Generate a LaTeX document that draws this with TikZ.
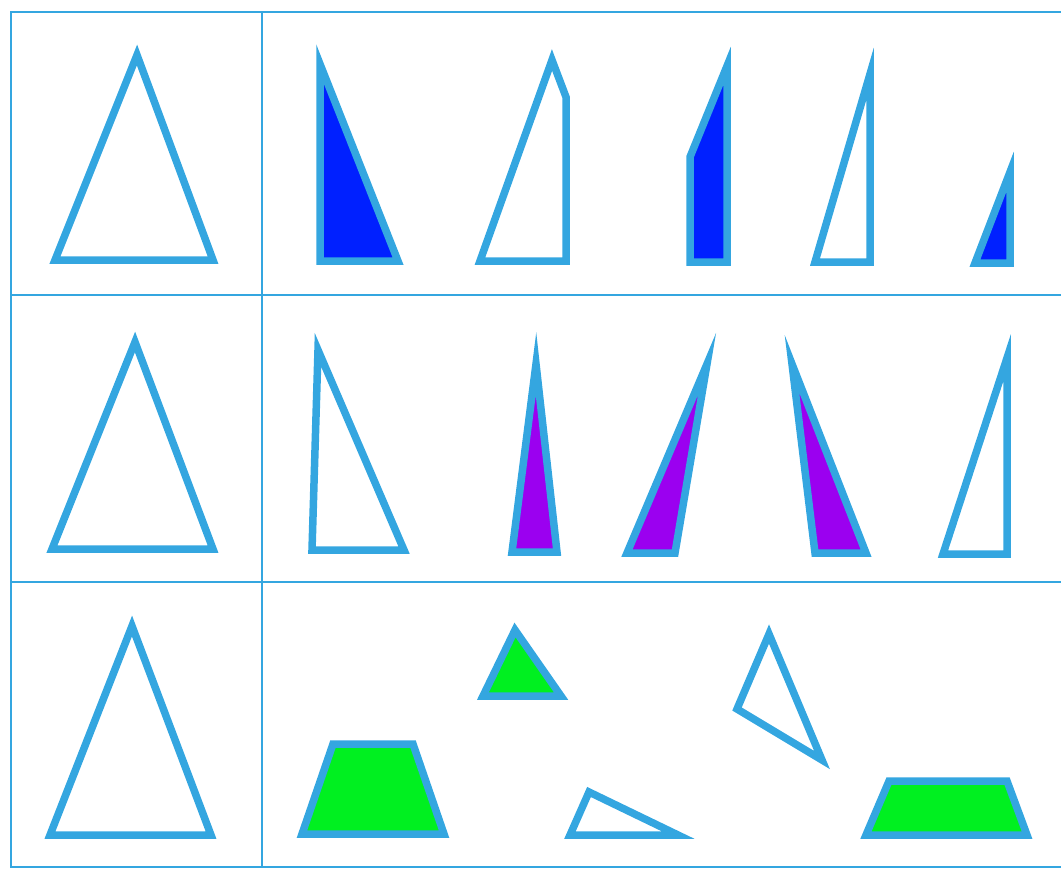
\documentclass[tikz,border=0pt]{standalone}
\usepackage{tikz}

\definecolor{edgeblue}{RGB}{52,166,224}
\definecolor{fillblue}{RGB}{0,32,255}
\definecolor{fillviolet}{RGB}{155,0,240}
\definecolor{fillgreen}{RGB}{0,240,32}

\begin{document}
\begin{tikzpicture}[x=1pt, y=-1pt,
  gridline/.style={draw=edgeblue, line width=2.8pt},
  fig/.style={draw=edgeblue, line width=7.5pt, miter limit=25},
  figblue/.style={fig, fill=fillblue},
  figviolet/.style={fig, fill=fillviolet},
  figgreen/.style={fig, fill=fillgreen}]
\useasboundingbox (0,0) rectangle (1061,871);
% table
\draw[gridline] (1061,12) -- (11,12) -- (11,867) -- (1061,867);
\draw[gridline] (262,12) -- (262,867);
\draw[gridline] (11,295) -- (1061,295);
\draw[gridline] (11,582) -- (1061,582);
% row 1
\draw[fig]       (55,260) -- (137,55) -- (213,260) -- cycle;
\draw[figblue]   (320,261) -- (320,64) -- (398,261) -- cycle;
\draw[fig]       (480,261) -- (552,60) -- (566,97) -- (566,261) -- cycle;
\draw[figblue]   (690,262) -- (690,157) -- (727,66) -- (727,262) -- cycle;
\draw[fig]       (815,262) -- (870,74) -- (870,262) -- cycle;
\draw[figblue]   (975,263) -- (1010,172) -- (1010,263) -- cycle;
% row 2
\draw[fig]       (52,549) -- (135,342) -- (213,549) -- cycle;
\draw[fig]       (312,550) -- (318,350) -- (404,550) -- cycle;
\draw[figviolet] (512,552) -- (536,364) -- (557,552) -- cycle;
\draw[figviolet] (627,553) -- (707,364) -- (675,553) -- cycle;
\draw[figviolet] (815,553) -- (792,364) -- (866,553) -- cycle;
\draw[fig]       (943,554) -- (1007,358) -- (1007,554) -- cycle;
% row 3
\draw[fig]       (50,835) -- (132,626) -- (211,835) -- cycle;
\draw[figgreen]  (302,834) -- (333,744) -- (413,744) -- (444,834) -- cycle;
\draw[figgreen]  (483,696) -- (515,630) -- (561,696) -- cycle;
\draw[fig]       (737,709) -- (769,634) -- (822,760) -- cycle;
\draw[fig]       (570,835) -- (589,792) -- (678,835) -- cycle;
\draw[figgreen]  (866,835) -- (889,781) -- (1007,781) -- (1027,835) -- cycle;
\end{tikzpicture}
\end{document}
